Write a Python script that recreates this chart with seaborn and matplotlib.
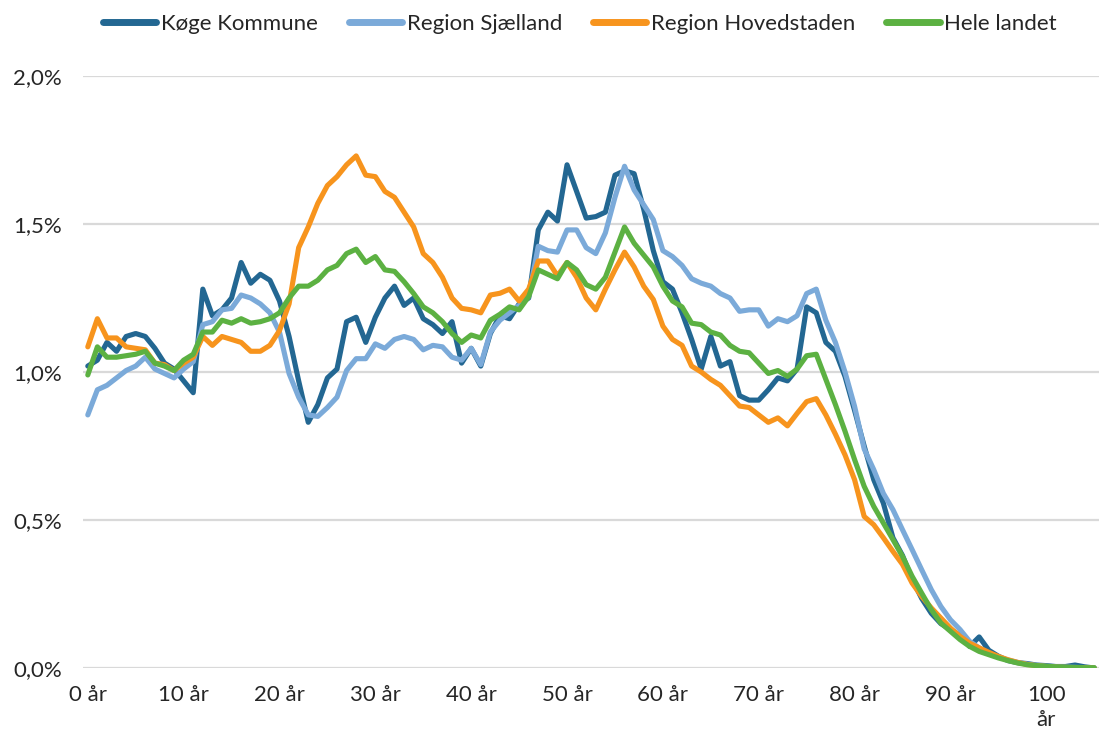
import matplotlib
matplotlib.use('Agg')
from matplotlib import pyplot as plt
import numpy as np
import pandas as pd
import seaborn as sns

# Aldersfordeling (andel af befolkningen i %) pr. etårig alder 0-105
alder = list(range(0, 106))

koege = [1.02, 1.04, 1.10, 1.07, 1.12, 1.13, 1.12, 1.08, 1.03, 1.01,
         0.97, 0.93, 1.28, 1.19, 1.21, 1.25, 1.37, 1.30, 1.33, 1.31,
         1.24, 1.12, 0.97, 0.83, 0.89, 0.98, 1.01, 1.17, 1.185, 1.10,
         1.185, 1.25, 1.29, 1.225, 1.25, 1.18, 1.16, 1.13, 1.17, 1.03,
         1.08, 1.02, 1.13, 1.19, 1.18, 1.23, 1.25, 1.48, 1.54, 1.51,
         1.70, 1.61, 1.52, 1.525, 1.54, 1.665, 1.68, 1.67, 1.55, 1.41,
         1.305, 1.28, 1.20, 1.11, 1.01, 1.12, 1.02, 1.035, 0.92, 0.905,
         0.905, 0.94, 0.98, 0.97, 1.01, 1.22, 1.20, 1.10, 1.07, 0.985,
         0.87, 0.75, 0.636, 0.557, 0.44, 0.38, 0.30, 0.235, 0.185, 0.15,
         0.13, 0.11, 0.073, 0.105, 0.06, 0.04, 0.025, 0.018, 0.015, 0.01,
         0.008, 0.005, 0.005, 0.01, 0.004, 0.0]

sjaelland = [0.855, 0.94, 0.955, 0.98, 1.005, 1.02, 1.05, 1.01, 0.995, 0.98,
             1.01, 1.035, 1.16, 1.17, 1.21, 1.215, 1.26, 1.25, 1.23, 1.20,
             1.135, 0.995, 0.915, 0.855, 0.85, 0.88, 0.915, 1.005, 1.045, 1.045,
             1.095, 1.08, 1.11, 1.12, 1.11, 1.075, 1.09, 1.085, 1.05, 1.04,
             1.08, 1.025, 1.135, 1.175, 1.20, 1.225, 1.255, 1.425, 1.41, 1.405,
             1.48, 1.48, 1.42, 1.40, 1.47, 1.59, 1.695, 1.615, 1.565, 1.515,
             1.41, 1.39, 1.36, 1.315, 1.30, 1.29, 1.265, 1.25, 1.205, 1.21,
             1.21, 1.155, 1.18, 1.17, 1.19, 1.265, 1.28, 1.175, 1.10, 1.0,
             0.884, 0.74, 0.67, 0.59, 0.535, 0.467, 0.40, 0.332, 0.265, 0.208,
             0.163, 0.13, 0.09, 0.068, 0.05, 0.037, 0.027, 0.019, 0.013, 0.009,
             0.006, 0.004, 0.003, 0.002, 0.001, 0.001]

hovedstaden = [1.085, 1.18, 1.115, 1.115, 1.085, 1.08, 1.075, 1.03, 1.025, 1.005,
               1.03, 1.05, 1.12, 1.09, 1.12, 1.11, 1.10, 1.07, 1.07, 1.09,
               1.14, 1.23, 1.42, 1.49, 1.57, 1.63, 1.66, 1.70, 1.73, 1.665,
               1.66, 1.61, 1.59, 1.54, 1.49, 1.40, 1.37, 1.32, 1.25, 1.215,
               1.21, 1.20, 1.26, 1.266, 1.28, 1.24, 1.28, 1.375, 1.375, 1.325,
               1.37, 1.32, 1.25, 1.21, 1.28, 1.345, 1.405, 1.355, 1.29, 1.245,
               1.155, 1.11, 1.09, 1.02, 1.0, 0.975, 0.955, 0.92, 0.885, 0.88,
               0.855, 0.83, 0.845, 0.818, 0.86, 0.90, 0.91, 0.855, 0.79, 0.72,
               0.636, 0.512, 0.484, 0.44, 0.394, 0.35, 0.287, 0.242, 0.203, 0.169,
               0.135, 0.107, 0.084, 0.068, 0.053, 0.039, 0.028, 0.019, 0.012, 0.008,
               0.005, 0.003, 0.002, 0.001, 0.001, 0.0]

hele_landet = [0.99, 1.085, 1.05, 1.05, 1.055, 1.06, 1.07, 1.03, 1.02, 1.005,
               1.04, 1.06, 1.135, 1.135, 1.175, 1.165, 1.18, 1.165, 1.17, 1.18,
               1.20, 1.25, 1.29, 1.29, 1.31, 1.345, 1.36, 1.40, 1.415, 1.37,
               1.39, 1.345, 1.34, 1.305, 1.265, 1.22, 1.20, 1.17, 1.13, 1.10,
               1.125, 1.115, 1.175, 1.195, 1.22, 1.21, 1.255, 1.345, 1.33, 1.315,
               1.37, 1.345, 1.295, 1.28, 1.32, 1.405, 1.49, 1.435, 1.395, 1.355,
               1.29, 1.24, 1.22, 1.165, 1.16, 1.135, 1.125, 1.09, 1.07, 1.065,
               1.03, 0.995, 1.005, 0.985, 1.01, 1.055, 1.06, 0.975, 0.89, 0.80,
               0.704, 0.614, 0.546, 0.49, 0.434, 0.377, 0.31, 0.253, 0.197, 0.152,
               0.124, 0.096, 0.073, 0.056, 0.045, 0.034, 0.025, 0.017, 0.011, 0.008,
               0.006, 0.004, 0.003, 0.002, 0.001, 0.001]

serier = ['Køge Kommune', 'Region Sjælland', 'Region Hovedstaden', 'Hele landet']
farver = ['#236792', '#7BAAD9', '#F7941D', '#5CB142']

x_ticks = [0, 10, 20, 30, 40, 50, 60, 70, 80, 90, 100]
x_labels = ['0 år', '10 år', '20 år', '30 år', '40 år', '50 år',
            '60 år', '70 år', '80 år', '90 år', '100\når']
y_ticks = [0.0, 0.5, 1.0, 1.5, 2.0]
y_labels = ['0,0%', '0,5%', '1,0%', '1,5%', '2,0%']

# long format til seaborn
df = pd.DataFrame({
    'alder': alder * 4,
    'andel': koege + sjaelland + hovedstaden + hele_landet,
    'omraade': np.repeat(serier, len(alder)),
})

sns.set_theme(style='white')
plt.rcParams['font.family'] = ['Lato', 'DejaVu Sans']

fig = plt.figure(figsize=(10.99, 7.31), dpi=100)
ax = fig.add_axes([83 / 1099, 1 - 668 / 731, 1016 / 1099, 592 / 731])

sns.lineplot(data=df, x='alder', y='andel', hue='omraade', hue_order=serier,
             palette=farver, linewidth=3.7, ax=ax)
for line in ax.lines:
    line.set_solid_joinstyle('round')
    line.set_solid_capstyle('round')

ax.set_xlim(-0.5, 105.5)
ax.set_ylim(0, 2.0)
ax.set_xticks(x_ticks)
ax.set_xticklabels(x_labels, fontsize=16, linespacing=1.35, va='top')
ax.set_yticks(y_ticks)
ax.set_yticklabels(y_labels, fontsize=16)
ax.tick_params(axis='x', length=0, pad=12)
ax.tick_params(axis='y', length=0, pad=15)
ax.set_xlabel('')
ax.set_ylabel('')
ax.yaxis.grid(True, color='#d9d9d9', linewidth=1.6)
ax.xaxis.grid(False)
ax.set_axisbelow(True)
for s in ax.spines.values():
    s.set_visible(False)

sns.move_legend(ax, 'center', bbox_to_anchor=(0.489, 1.088), ncol=4,
                frameon=False, title=None, fontsize=16,
                handlelength=2.4, handletextpad=0.2, columnspacing=1.4)
for h in ax.get_legend().legend_handles:
    h.set_linewidth(5)

plt.savefig('out.png', dpi=100)
